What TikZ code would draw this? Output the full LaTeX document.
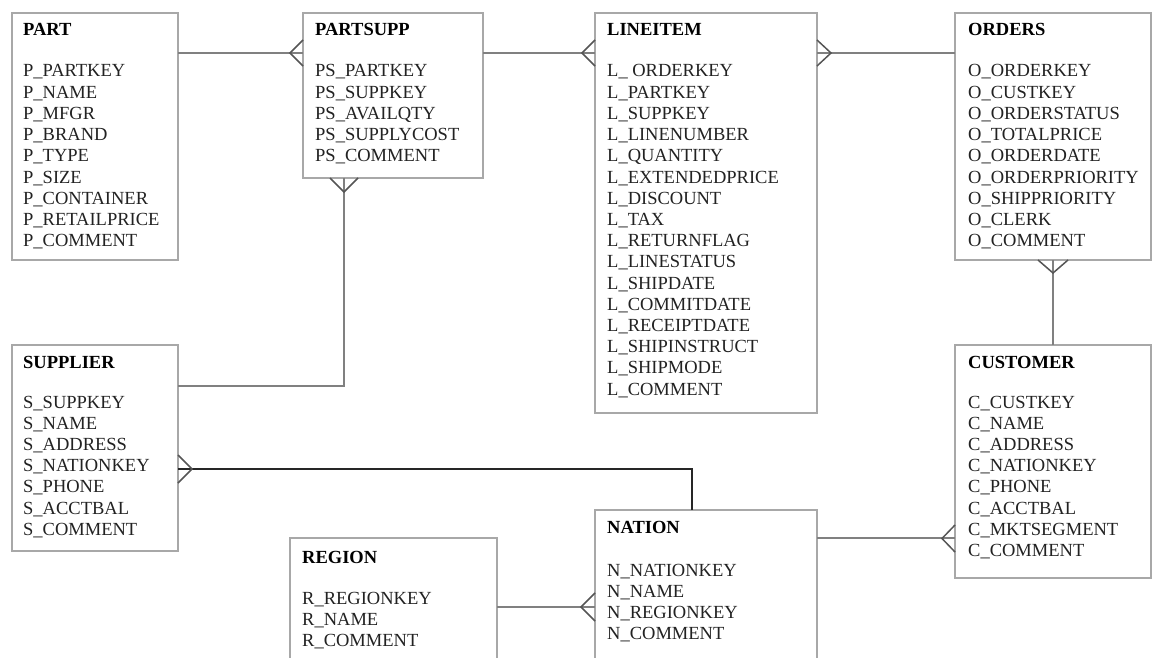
\documentclass[tikz,border=0pt]{standalone}
\usepackage{fontspec}
\setmainfont{Liberation Serif}
\definecolor{boxgray}{HTML}{A8A8A8}
\definecolor{conngray}{HTML}{808080}
\definecolor{crowgray}{HTML}{555555}
\definecolor{textdark}{HTML}{222222}
\tikzset{
  ebox/.style={draw=boxgray, line width=1.3pt, anchor=north west, inner sep=0pt, outer sep=0pt},
  etitle/.style={anchor=base west, inner sep=0pt, font=\fontsize{18.5}{21}\selectfont\bfseries, text=black},
  eattr/.style={anchor=base west, inner sep=0pt, font=\fontsize{18.5}{21}\selectfont, text=textdark},
  conn/.style={draw=conngray, line width=2pt},
  darkconn/.style={draw=black!85, line width=2pt},
  crowline/.style={draw=crowgray, line width=1.5pt, line join=miter},
}
\newcommand{\attrlist}[4]{%
  \foreach \t [count=\i] in {#4} {\node[eattr] (#1-\i) at (#2, {#3+21.2*(\i-1)}) {\t};}%
}
\begin{document}
\begin{tikzpicture}[x=1pt, y=-1pt]
\useasboundingbox (0,0) rectangle (1152,658);
\clip (0,0) rectangle (1152,658);
\fill[white] (0,0) rectangle (1152,658);

% boxes
\node[ebox, minimum width=166pt, minimum height=247pt] (part) at (12,13) {};
\node[ebox, minimum width=180pt, minimum height=165pt] (partsupp) at (303,13) {};
\node[ebox, minimum width=222pt, minimum height=400pt] (lineitem) at (595,13) {};
\node[ebox, minimum width=196pt, minimum height=247pt] (orders) at (955,13) {};
\node[ebox, minimum width=166pt, minimum height=206pt] (supplier) at (12,345) {};
\node[ebox, minimum width=196pt, minimum height=233pt] (customer) at (955,345) {};
\node[ebox, minimum width=222pt, minimum height=170pt] (nation) at (595,510) {};
\node[ebox, minimum width=207pt, minimum height=140pt] (region) at (290,538) {};

% titles
\node[etitle] (partT) at (23,36) {PART};
\node[etitle] (partsuppT) at (315,36) {PARTSUPP};
\node[etitle] (lineitemT) at (607,36) {LINEITEM};
\node[etitle] (ordersT) at (968,36) {ORDERS};
\node[etitle] (supplierT) at (23,368) {SUPPLIER};
\node[etitle] (customerT) at (968,368) {CUSTOMER};
\node[etitle] (nationT) at (607,533) {NATION};
\node[etitle] (regionT) at (302,563) {REGION};

% attributes
\attrlist{pa}{23}{77}{P\_PARTKEY, P\_NAME, P\_MFGR, P\_BRAND, P\_TYPE, P\_SIZE, P\_CONTAINER, P\_RETAILPRICE, P\_COMMENT}
\attrlist{ps}{315}{77}{PS\_PARTKEY, PS\_SUPPKEY, PS\_AVAILQTY, PS\_SUPPLYCOST, PS\_COMMENT}
\attrlist{li}{607}{77}{L\_ ORDERKEY, L\_PARTKEY, L\_SUPPKEY, L\_LINENUMBER, L\_QUANTITY, L\_EXTENDEDPRICE, L\_DISCOUNT, L\_TAX, L\_RETURNFLAG, L\_LINESTATUS, L\_SHIPDATE, L\_COMMITDATE, L\_RECEIPTDATE, L\_SHIPINSTRUCT, L\_SHIPMODE, L\_COMMENT}
\attrlist{or}{968}{77}{O\_ORDERKEY, O\_CUSTKEY, O\_ORDERSTATUS, O\_TOTALPRICE, O\_ORDERDATE, O\_ORDERPRIORITY, O\_SHIPPRIORITY, O\_CLERK, O\_COMMENT}
\attrlist{su}{23}{408}{S\_SUPPKEY, S\_NAME, S\_ADDRESS, S\_NATIONKEY, S\_PHONE, S\_ACCTBAL, S\_COMMENT}
\attrlist{cu}{968}{408}{C\_CUSTKEY, C\_NAME, C\_ADDRESS, C\_NATIONKEY, C\_PHONE, C\_ACCTBAL, C\_MKTSEGMENT, C\_COMMENT}
\attrlist{na}{607}{576}{N\_NATIONKEY, N\_NAME, N\_REGIONKEY, N\_COMMENT}
\attrlist{re}{302}{604}{R\_REGIONKEY, R\_NAME, R\_COMMENT}

% connectors
\draw[conn] ([yshift=-40pt]part.north east) -- ([yshift=-40pt]partsupp.north west);
\draw[crowline] ([yshift=-27pt]partsupp.north west) -- ++(-13,13) -- ++(13,13);

\draw[conn] ([yshift=-40pt]partsupp.north east) -- ([yshift=-40pt]lineitem.north west);
\draw[crowline] ([yshift=-27pt]lineitem.north west) -- ++(-13,13) -- ++(13,13);

\draw[conn] ([yshift=-40pt]lineitem.north east) -- ([yshift=-40pt]orders.north west);
\draw[crowline] ([yshift=-27pt]lineitem.north east) -- ++(14,13) -- ++(-14,13);

\draw[conn] (orders.south) -- (customer.north);
\draw[crowline] ([xshift=-15pt]orders.south) -- ++(15,13) -- ++(15,-13);

\draw[conn] ([yshift=-28pt]nation.north east) -- ([yshift=-193pt]customer.north west);
\draw[crowline] ([yshift=-180pt]customer.north west) -- ++(-13,13.5) -- ++(13,13.5);

\draw[conn] ([xshift=41pt]partsupp.south west) |- ([yshift=-41pt]supplier.north east);
\draw[crowline] ([xshift=27pt]partsupp.south west) -- ++(14,14) -- ++(14,-14);

\draw[darkconn] ([yshift=-124pt]supplier.north east) -| ([xshift=97pt]nation.north west);
\draw[crowline] ([yshift=-110pt]supplier.north east) -- ++(14,14) -- ++(-14,14);

\draw[conn] ([yshift=-69pt]region.north east) -- ([yshift=-97pt]nation.north west);
\draw[crowline] ([yshift=-83pt]nation.north west) -- ++(-14,14) -- ++(14,14);
\end{tikzpicture}
\end{document}
